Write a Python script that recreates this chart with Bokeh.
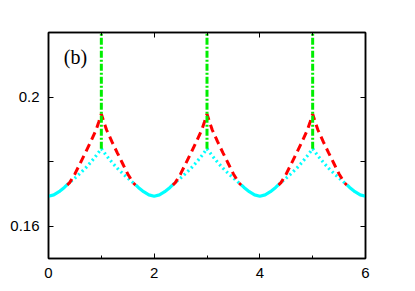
from bokeh.plotting import figure
from bokeh.models import Range1d, FixedTicker, LinearAxis, Label, CustomLabelingPolicy
from bokeh.embed import file_html
from bokeh.resources import INLINE

# ---- data ----
x_ticks = [0, 2, 4, 6]
x_minor = [1, 3, 5]
y_ticks = [0.16, 0.2]
y_minor = [0.18]

# cyan solid parts (valleys)
cyan_solid_x = [
    [0.0, 0.1, 0.2, 0.3, 0.35],
    [1.65, 1.7, 1.8, 1.9, 2.0, 2.1, 2.2, 2.3, 2.35],
    [3.65, 3.7, 3.8, 3.9, 4.0, 4.1, 4.2, 4.3, 4.35],
    [5.65, 5.7, 5.8, 5.9, 6.0],
]
cyan_solid_y = [
    [0.1693, 0.1697, 0.1707, 0.1720, 0.1728],
    [0.1728, 0.1720, 0.1707, 0.1697, 0.1693, 0.1697, 0.1707, 0.1720, 0.1728],
    [0.1728, 0.1720, 0.1707, 0.1697, 0.1693, 0.1697, 0.1707, 0.1720, 0.1728],
    [0.1728, 0.1720, 0.1707, 0.1697, 0.1693],
]

# cyan dotted parts (around peaks)
cyan_dot_x = [
    [0.35, 0.4, 0.5, 0.6, 0.7, 0.8, 0.9, 1.0, 1.1, 1.2, 1.3, 1.4, 1.5, 1.6, 1.65],
    [2.35, 2.4, 2.5, 2.6, 2.7, 2.8, 2.9, 3.0, 3.1, 3.2, 3.3, 3.4, 3.5, 3.6, 3.65],
    [4.35, 4.4, 4.5, 4.6, 4.7, 4.8, 4.9, 5.0, 5.1, 5.2, 5.3, 5.4, 5.5, 5.6, 5.65],
]
cyan_dot_y = [
    [0.1728, 0.1735, 0.1749, 0.1764, 0.1780, 0.1798, 0.1818, 0.1840,
     0.1818, 0.1798, 0.1780, 0.1764, 0.1749, 0.1735, 0.1728],
    [0.1728, 0.1735, 0.1749, 0.1764, 0.1780, 0.1798, 0.1818, 0.1840,
     0.1818, 0.1798, 0.1780, 0.1764, 0.1749, 0.1735, 0.1728],
    [0.1728, 0.1735, 0.1749, 0.1764, 0.1780, 0.1798, 0.1818, 0.1840,
     0.1818, 0.1798, 0.1780, 0.1764, 0.1749, 0.1735, 0.1728],
]

# red dashed cusps
red_x = [
    [0.35, 0.4, 0.5, 0.6, 0.7, 0.8, 0.9, 0.95, 1.0, 1.05, 1.1, 1.2, 1.3, 1.4, 1.5, 1.6, 1.65],
    [2.35, 2.4, 2.5, 2.6, 2.7, 2.8, 2.9, 2.95, 3.0, 3.05, 3.1, 3.2, 3.3, 3.4, 3.5, 3.6, 3.65],
    [4.35, 4.4, 4.5, 4.6, 4.7, 4.8, 4.9, 4.95, 5.0, 5.05, 5.1, 5.2, 5.3, 5.4, 5.5, 5.6, 5.65],
]
red_y = [
    [0.1727, 0.1735, 0.1762, 0.1795, 0.1828, 0.1862, 0.1898, 0.1922, 0.1948,
     0.1922, 0.1898, 0.1862, 0.1828, 0.1795, 0.1762, 0.1735, 0.1727],
    [0.1727, 0.1735, 0.1762, 0.1795, 0.1828, 0.1862, 0.1898, 0.1922, 0.1948,
     0.1922, 0.1898, 0.1862, 0.1828, 0.1795, 0.1762, 0.1735, 0.1727],
    [0.1727, 0.1735, 0.1762, 0.1795, 0.1828, 0.1862, 0.1898, 0.1922, 0.1948,
     0.1922, 0.1898, 0.1862, 0.1828, 0.1795, 0.1762, 0.1735, 0.1727],
]

# green dash-dot vertical lines
green_x = [1, 3, 5]
green_y0 = [0.1840, 0.1840, 0.1840]
green_y1 = [0.2200, 0.2200, 0.2200]

panel_label = "(b)"

# ---- figure ----
p = figure(width=406, height=288, output_backend="svg", toolbar_location=None,
           x_range=Range1d(0, 6), y_range=Range1d(0.15, 0.22),
           min_border_left=48, min_border_right=40, min_border_top=32, min_border_bottom=30,
           x_axis_location=None, y_axis_location=None)
p.grid.visible = False
p.outline_line_color = "black"
p.outline_line_width = 1.5
p.background_fill_color = "white"
p.border_fill_color = "white"

no_labels = CustomLabelingPolicy(code="""
    for (const i of indices) { indices.unset(i) }
    return indices
""")

def style_axis(ax, labels=True):
    ax.axis_line_color = "black"
    ax.axis_line_width = 1.5
    ax.major_tick_in = 5
    ax.major_tick_out = 0
    ax.minor_tick_out = 0
    ax.major_tick_line_color = "black"
    ax.minor_tick_line_color = "black"
    ax.major_label_text_font = "Liberation Sans"
    ax.major_label_text_font_size = "15px"
    ax.major_label_text_color = "black"
    ax.major_label_standoff = 9
    if not labels:
        ax.major_label_policy = no_labels

xb = LinearAxis(ticker=FixedTicker(ticks=x_ticks, minor_ticks=x_minor))
style_axis(xb)
xb.minor_tick_in = 3
p.add_layout(xb, "below")

xt = LinearAxis(ticker=FixedTicker(ticks=x_ticks, minor_ticks=x_minor))
style_axis(xt, labels=False)
xt.minor_tick_in = 3
p.add_layout(xt, "above")

yl = LinearAxis(ticker=FixedTicker(ticks=y_ticks, minor_ticks=y_minor))
style_axis(yl)
yl.minor_tick_in = 5
yl.major_label_overrides = {0.2: "0.2", 0.16: "0.16"}
p.add_layout(yl, "left")

yr = LinearAxis(ticker=FixedTicker(ticks=y_ticks, minor_ticks=y_minor))
style_axis(yr, labels=False)
yr.minor_tick_in = 5
p.add_layout(yr, "right")

p.multi_line(xs=cyan_dot_x, ys=cyan_dot_y, line_color="#00ffff", line_width=3.2,
             line_dash="2 3")
p.multi_line(xs=red_x, ys=red_y, line_color="#ff0000", line_width=3,
             line_dash="8 5")
p.multi_line(xs=cyan_solid_x, ys=cyan_solid_y, line_color="#00ffff", line_width=3.2)
p.segment(x0=green_x, y0=green_y0, x1=green_x, y1=green_y1, line_color="#00ee00",
          line_width=3, line_dash="7 2 2 2")

p.add_layout(Label(x=0.29, y=0.2124, text=panel_label, text_font="Liberation Serif",
                   text_font_size="20px", text_baseline="middle", text_align="left",
                   text_color="black"))

open("out.html", "w").write(file_html(p, INLINE))
